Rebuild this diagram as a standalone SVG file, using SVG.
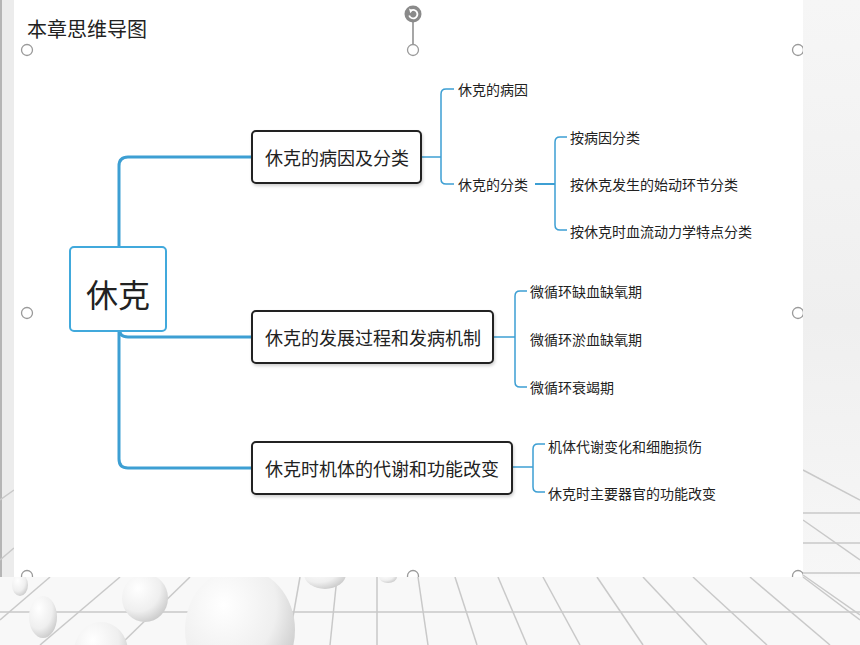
<svg xmlns="http://www.w3.org/2000/svg" width="860" height="645" viewBox="0 0 860 645">
<style>
.t{font-family:"Noto Sans CJK SC","Noto Sans",sans-serif;fill:#222;dominant-baseline:central}
.leaf{font-size:14px}
.mid{font-size:18px}
.box{fill:#fff;stroke:#222;stroke-width:2}
.trunk{fill:none;stroke:#3d9fd3;stroke-width:3}
.br{fill:none;stroke:#3d9fd3;stroke-width:1.5}
.hd{fill:#fff;stroke:#9a9a9a;stroke-width:1.3}
.g{stroke:#c9c9c9;stroke-width:1.5;fill:none}
</style>
<defs>
<radialGradient id="sph" cx="0.35" cy="0.3" r="0.8">
<stop offset="0" stop-color="#ffffff"/>
<stop offset="0.6" stop-color="#efefef"/>
<stop offset="1" stop-color="#c4c4c4"/>
</radialGradient>
<linearGradient id="rg" x1="0" y1="0" x2="0" y2="1">
<stop offset="0" stop-color="#f6f6f6"/>
<stop offset="0.5" stop-color="#efefef"/>
<stop offset="1" stop-color="#f9f9f9"/>
</linearGradient>
<clipPath id="panel"><rect x="14" y="0" width="789" height="577"/></clipPath>
<filter id="sh" x="-10%" y="-10%" width="120%" height="130%"><feDropShadow dx="1" dy="2" stdDeviation="1.5" flood-color="#000" flood-opacity="0.18"/></filter>
</defs>
<g id="background">
<rect x="0" y="0" width="860" height="645" fill="url(#rg)"/>
<rect x="0" y="0" width="14" height="645" fill="#ececec"/>
<line x1="1" y1="0" x2="1" y2="645" stroke="#b5b5b5" stroke-width="2"/>
<rect x="0" y="577" width="860" height="68" fill="#f8f8f8"/>
<g class="g">
<line x1="0" y1="612" x2="860" y2="612"/>
<line x1="803" y1="513" x2="860" y2="513"/>
<line x1="803" y1="543" x2="860" y2="543"/>
<line x1="803" y1="573" x2="860" y2="573"/>
<line x1="803" y1="470" x2="860" y2="500"/>
<line x1="803" y1="520" x2="860" y2="560"/>
<line x1="803" y1="575" x2="860" y2="615"/>
<line x1="455" y1="577" x2="477" y2="645"/>
<line x1="498" y1="577" x2="527" y2="645"/>
<line x1="543" y1="577" x2="580" y2="645"/>
<line x1="597" y1="577" x2="643" y2="645"/>
<line x1="643" y1="577" x2="707" y2="645"/>
<line x1="693" y1="577" x2="767" y2="645"/>
<line x1="750" y1="577" x2="830" y2="645"/>
<line x1="803" y1="577" x2="860" y2="620"/>
<line x1="418" y1="577" x2="428" y2="645"/>
<line x1="377" y1="577" x2="377" y2="645"/>
<line x1="337" y1="577" x2="330" y2="645"/>
<line x1="300" y1="577" x2="288" y2="645"/>
<line x1="0" y1="620" x2="50" y2="577"/>
<line x1="40" y1="645" x2="120" y2="577"/>
<line x1="120" y1="645" x2="190" y2="577"/>
<line x1="0" y1="560" x2="14" y2="548"/>
<line x1="0" y1="500" x2="14" y2="490"/>
</g>
<ellipse cx="20" cy="585" rx="8" ry="11" fill="url(#sph)"/>
<ellipse cx="43" cy="617" rx="14" ry="21" fill="url(#sph)"/>
<ellipse cx="145" cy="598" rx="23" ry="24" fill="url(#sph)"/>
<ellipse cx="101" cy="652" rx="27" ry="30" fill="url(#sph)"/>
<ellipse cx="240" cy="630" rx="55" ry="62" fill="url(#sph)"/>
<ellipse cx="325" cy="574" rx="21" ry="15" fill="url(#sph)"/>
<ellipse cx="388" cy="577" rx="9" ry="6" fill="url(#sph)"/>
<rect x="14" y="0" width="789" height="577" fill="#fff"/>
</g>
<g id="title"><text class="t" x="27" y="28" style="font-size:20px">本章思维导图</text></g>
<g id="connectors">
<path class="trunk" d="M252,157 H128 Q119,157 119,166 V459 Q119,468 128,468 H252"/>
<path class="trunk" d="M119,328 Q119,337 128,337 H252"/>
<path class="br" d="M421,157 H441"/>
<path class="br" d="M454,89 H446 Q441,89 441,94 V179 Q441,184 446,184 H454"/>
<path class="trunk" style="stroke-width:2" d="M535,184 H555"/>
<path class="br" d="M567,137 H560 Q555,137 555,142 V225 Q555,230 560,230 H567"/>
<path class="br" d="M493,337 H515"/>
<path class="br" d="M527,291 H520 Q515,291 515,296 V382 Q515,387 520,387 H527"/>
<path class="br" d="M512,467 H533"/>
<path class="br" d="M545,444 H538 Q533,444 533,449 V487 Q533,492 538,492 H545"/>
</g>
<g id="node-root">
<rect x="70" y="247" width="96" height="84" rx="4" fill="#fff" stroke="#41a9dc" stroke-width="2"/>
<text class="t" x="118" y="293" text-anchor="middle" style="font-size:32px">休克</text>
</g>
<g id="node-b1">
<rect class="box" x="252" y="131" width="169" height="52" rx="4" filter="url(#sh)"/>
<text class="t mid" x="265" y="157">休克的病因及分类</text>
</g>
<g id="node-b2">
<rect class="box" x="252" y="311" width="241" height="52" rx="4" filter="url(#sh)"/>
<text class="t mid" x="265" y="337">休克的发展过程和发病机制</text>
</g>
<g id="node-b3">
<rect class="box" x="252" y="442" width="260" height="52" rx="4" filter="url(#sh)"/>
<text class="t mid" x="265" y="468">休克时机体的代谢和功能改变</text>
</g>
<g id="node-b1-1"><text class="t leaf" x="458" y="89">休克的病因</text></g>
<g id="node-b1-2"><text class="t leaf" x="458" y="184">休克的分类</text></g>
<g id="node-b1-2-1"><text class="t leaf" x="570" y="137">按病因分类</text></g>
<g id="node-b1-2-2"><text class="t leaf" x="570" y="184">按休克发生的始动环节分类</text></g>
<g id="node-b1-2-3"><text class="t leaf" x="570" y="231">按休克时血流动力学特点分类</text></g>
<g id="node-b2-1"><text class="t leaf" x="530" y="291">微循环缺血缺氧期</text></g>
<g id="node-b2-2"><text class="t leaf" x="530" y="339">微循环淤血缺氧期</text></g>
<g id="node-b2-3"><text class="t leaf" x="530" y="387">微循环衰竭期</text></g>
<g id="node-b3-1"><text class="t leaf" x="548" y="446">机体代谢变化和细胞损伤</text></g>
<g id="node-b3-2"><text class="t leaf" x="548" y="493">休克时主要器官的功能改变</text></g>
<g id="selection">
<line x1="413" y1="22" x2="413" y2="44.5" stroke="#777" stroke-width="1.3"/>
<circle cx="413" cy="14" r="8.5" fill="#8a8a8a"/>
<path d="M409.2,15.5 A4.2,4.2 0 1 0 411,10.6" fill="none" stroke="#fff" stroke-width="1.8"/>
<path d="M409,8.6 L412.8,10.2 L410.3,13.3 Z" fill="#fff"/>
<g clip-path="url(#panel)">
<circle class="hd" cx="27" cy="50" r="5.5"/>
<circle class="hd" cx="413" cy="50" r="5.5"/>
<circle class="hd" cx="798" cy="50" r="5.5"/>
<circle class="hd" cx="27" cy="313" r="5.5"/>
<circle class="hd" cx="798" cy="313" r="5.5"/>
<circle class="hd" cx="27" cy="576" r="5.5"/>
<circle class="hd" cx="413" cy="576" r="5.5"/>
<circle class="hd" cx="798" cy="576" r="5.5"/>
</g>
</g>
</svg>
